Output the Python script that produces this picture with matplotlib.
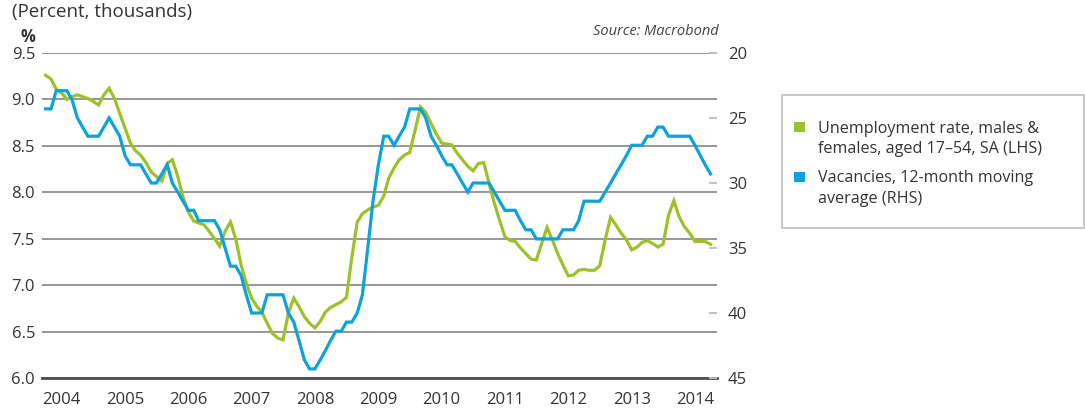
import matplotlib.pyplot as plt
import pandas as pd
from matplotlib.patches import Rectangle

plt.rcParams['font.family'] = ['Open Sans', 'DejaVu Sans']

# Unemployment rate, % (left axis), monthly from Oct 2003
unemployment = [
    9.26, 9.22, 9.11, 9.07, 9.00, 9.03, 9.05, 9.03, 9.01, 8.98,
    8.94, 9.05, 9.12, 9.01, 8.85, 8.69, 8.53, 8.45, 8.40, 8.32,
    8.22, 8.17, 8.12, 8.31, 8.35, 8.17, 7.95, 7.79, 7.69, 7.67,
    7.65, 7.58, 7.50, 7.42, 7.58, 7.68, 7.50, 7.22, 7.02, 6.86,
    6.77, 6.71, 6.59, 6.48, 6.43, 6.41, 6.70, 6.86, 6.77, 6.66,
    6.59, 6.54, 6.61, 6.71, 6.76, 6.79, 6.82, 6.87, 7.30, 7.68,
    7.77, 7.81, 7.84, 7.86, 7.96, 8.15, 8.26, 8.35, 8.40, 8.43,
    8.67, 8.92, 8.86, 8.74, 8.63, 8.53, 8.52, 8.51, 8.42, 8.35,
    8.28, 8.23, 8.31, 8.32, 8.10, 7.88, 7.70, 7.52, 7.48, 7.47,
    7.40, 7.34, 7.28, 7.27, 7.45, 7.62, 7.49, 7.34, 7.22, 7.10,
    7.11, 7.16, 7.17, 7.16, 7.16, 7.21, 7.49, 7.73, 7.65, 7.56,
    7.49, 7.38, 7.41, 7.46, 7.48, 7.45, 7.41, 7.44, 7.75, 7.91,
    7.74, 7.63, 7.56, 7.47, 7.47, 7.47, 7.44,
]

# Vacancies, thousands, 12-month moving average (right axis, inverted)
vacancies = [
    24.3, 24.3, 22.9, 22.9, 22.9, 23.6, 25.0, 25.7, 26.4, 26.4,
    26.4, 25.7, 25.0, 25.7, 26.4, 27.9, 28.6, 28.6, 28.6, 29.3,
    30.0, 30.0, 29.3, 28.6, 30.0, 30.7, 31.4, 32.1, 32.1, 32.9,
    32.9, 32.9, 32.9, 33.6, 35.0, 36.4, 36.4, 37.1, 38.6, 40.0,
    40.0, 40.0, 38.6, 38.6, 38.6, 38.6, 40.0, 40.7, 42.1, 43.6,
    44.3, 44.3, 43.6, 42.9, 42.1, 41.4, 41.4, 40.7, 40.7, 40.0,
    38.6, 35.0, 31.4, 28.6, 26.4, 26.4, 27.1, 26.4, 25.7, 24.3,
    24.3, 24.3, 25.0, 26.4, 27.1, 27.9, 28.6, 28.6, 29.3, 30.0,
    30.7, 30.0, 30.0, 30.0, 30.0, 30.7, 31.4, 32.1, 32.1, 32.1,
    32.9, 33.6, 33.6, 34.3, 34.3, 34.3, 34.3, 34.3, 33.6, 33.6,
    33.6, 32.9, 31.4, 31.4, 31.4, 31.4, 30.7, 30.0, 29.3, 28.6,
    27.9, 27.1, 27.1, 27.1, 26.4, 26.4, 25.7, 25.7, 26.4, 26.4,
    26.4, 26.4, 26.4, 27.1, 27.9, 28.6, 29.3,
]

left_ticks = [6.0, 6.5, 7.0, 7.5, 8.0, 8.5, 9.0, 9.5]
right_ticks = [20, 25, 30, 35, 40, 45]
years = list(range(2004, 2015))

labels = [
    ["Unemployment rate, males &", "females, aged 17\u201354, SA (LHS)"],
    ["Vacancies, 12-month moving", "average (RHS)"],
]

green = '#9dc12b'
blue = '#0ea2db'
text_col = '#333333'

dates = pd.date_range('2003-10-01', periods=len(unemployment), freq='MS')

W, H = 1085, 417
fig = plt.figure(figsize=(W / 100, H / 100), dpi=100)
ax = fig.add_axes([42 / W, 1 - 378 / H, (717 - 42) / W, (378 - 53) / H])
ax2 = ax.twinx()

ax.plot(dates, unemployment, color=green, lw=2.3, solid_joinstyle='miter', zorder=3)
ax2.plot(dates, vacancies, color=blue, lw=2.3, solid_joinstyle='miter', zorder=3)

ax.set_xlim(pd.Timestamp('2003-09-10'), pd.Timestamp('2014-05-08'))
ax.set_ylim(6.0, 9.5)
ax2.set_ylim(45, 20)

ax.set_yticks(left_ticks)
ax.set_yticklabels([f"{v:.1f}" for v in left_ticks])
ax.set_xticks([pd.Timestamp(f'{y}-01-01') for y in years])
ax.set_xticklabels([str(y) for y in years])
ax2.set_yticks(right_ticks)

ax.grid(axis='y', color='#7a7a7a', lw=1.1)
ax.set_axisbelow(True)
for s in ['top', 'left', 'right']:
    ax.spines[s].set_visible(False)
    ax2.spines[s].set_visible(False)
ax2.spines['bottom'].set_visible(False)
ax.spines['bottom'].set_color('#4d4d4d')
ax.spines['bottom'].set_linewidth(2)

ax.tick_params(axis='y', length=0, pad=5, labelsize=12, labelcolor=text_col)
ax.tick_params(axis='x', length=0, pad=10, labelsize=12, labelcolor=text_col)
ax2.tick_params(axis='y', direction='in', length=6, width=1.3, color='#bdbdbd',
                pad=8, labelsize=12, labelcolor=text_col)
ax2.patch.set_visible(False)

def fx(x):
    return x / W

def fy(y):
    return 1 - y / H

fig.text(fx(12), fy(17), "(Percent, thousands)", fontsize=13.5, color=text_col,
         va='baseline', ha='left')
fig.text(fx(35), fy(42), "%", fontsize=12, fontweight='bold', color=text_col,
         va='baseline', ha='right')
fig.text(fx(719), fy(35), "Source: Macrobond", fontsize=10.5, style='italic',
         color='#444444', va='baseline', ha='right')

# legend box
fig.patches.append(Rectangle((fx(782), fy(228)), (1084 - 782) / W, (228 - 95) / H,
                             transform=fig.transFigure, fill=False,
                             edgecolor='#c4c4c4', lw=1.3))
for i, (col, lines) in enumerate(zip([green, blue], labels)):
    y0 = 127 + i * 49.7
    fig.patches.append(Rectangle((fx(794), fy(y0 + 5)), 11 / W, 10 / H,
                                 transform=fig.transFigure, color=col, lw=0))
    for j, line in enumerate(lines):
        fig.text(fx(818), fy(y0 + 5.7 + j * 20.7), line, fontsize=11.65,
                 color=text_col, va='baseline', ha='left')

fig.savefig('out.png', dpi=100)
